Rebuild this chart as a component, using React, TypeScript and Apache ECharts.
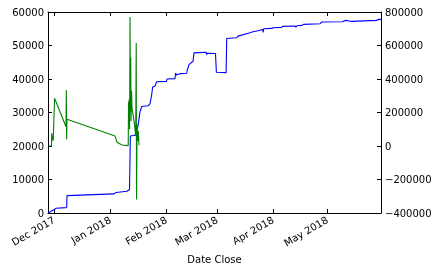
import React, { useEffect, useRef } from "react";
import * as echarts from "echarts";

// Blue series (left axis)
const blueDates = [
  "2017-11-27 17:00", "2017-11-28 19:00", "2017-12-01 13:00", "2017-12-02 00:00", "2017-12-07 15:00",
  "2017-12-08 00:00", "2017-12-08 04:00", "2018-01-03 03:00", "2018-01-04 06:00", "2018-01-10 08:00",
  "2018-01-11 17:00", "2018-01-12 04:00", "2018-01-14 18:00", "2018-01-16 10:00", "2018-01-17 12:00",
  "2018-01-18 11:00", "2018-01-21 22:00", "2018-01-23 00:00", "2018-01-23 21:00", "2018-01-24 12:00",
  "2018-01-25 19:00", "2018-01-26 17:00", "2018-02-01 04:00", "2018-02-01 10:00", "2018-02-05 20:00",
  "2018-02-06 05:00", "2018-02-06 16:00", "2018-02-08 14:00", "2018-02-12 07:00", "2018-02-12 14:00",
  "2018-02-13 14:00", "2018-02-15 02:00", "2018-02-15 19:00", "2018-02-16 08:00", "2018-02-23 00:00",
  "2018-02-23 08:00", "2018-02-23 20:00", "2018-02-28 05:00", "2018-02-28 17:00", "2018-03-06 02:00",
  "2018-03-06 10:00", "2018-03-11 22:00", "2018-03-12 16:00", "2018-03-19 07:00", "2018-03-20 22:00",
  "2018-03-23 17:00", "2018-03-26 05:00", "2018-03-26 12:00", "2018-03-26 20:00", "2018-03-31 10:00",
  "2018-04-01 00:00", "2018-04-05 17:00", "2018-04-06 05:00", "2018-04-13 03:00", "2018-04-13 16:00",
  "2018-04-14 05:00", "2018-04-17 00:00", "2018-04-17 20:00", "2018-04-27 00:00", "2018-04-27 19:00",
  "2018-05-09 03:00", "2018-05-11 08:00", "2018-05-13 00:00", "2018-05-14 03:00", "2018-05-28 04:00",
  "2018-05-29 14:00", "2018-05-30 16:00",
];
const blueValues = [
  0, 300, 1200, 1400, 1600,
  1800, 5200, 5700, 6100, 6500,
  7000, 23000, 23200, 26000, 30200,
  31800, 32000, 32600, 35000, 37600,
  37900, 39200, 39300, 40000, 40100,
  41800, 41200, 41600, 41700, 42600,
  44300, 45000, 45200, 47800, 48000,
  47300, 47700, 47600, 42000, 41900,
  52100, 52300, 52800, 53800, 54100,
  54400, 54800, 53900, 55000, 55100,
  55300, 55400, 55700, 55800, 55500,
  55900, 56000, 56300, 56500, 57000,
  57100, 57500, 57300, 57200, 57500,
  57800, 57800,
];

// Green series (right axis)
const greenDates = [
  "2017-11-28 01:00", "2017-11-29 14:00", "2017-11-29 17:00", "2017-11-30 04:00", "2017-11-30 13:00",
  "2017-12-01 07:00", "2017-12-07 15:00", "2017-12-07 19:00", "2017-12-07 23:00", "2017-12-08 04:00",
  "2018-01-03 17:00", "2018-01-04 19:00", "2018-01-07 14:00", "2018-01-11 00:00", "2018-01-11 04:00",
  "2018-01-11 07:00", "2018-01-11 13:00", "2018-01-11 18:00", "2018-01-12 00:00", "2018-01-12 04:00",
  "2018-01-12 09:00", "2018-01-12 13:00", "2018-01-12 20:00", "2018-01-13 02:00", "2018-01-14 05:00",
  "2018-01-15 03:00", "2018-01-15 10:00", "2018-01-15 14:00", "2018-01-15 21:00", "2018-01-16 07:00",
  "2018-01-16 14:00", "2018-01-16 23:00",
];
const greenValues = [
  0, 0, 76000, 45000, 30000,
  285000, 115000, 334000, 40000, 160000,
  60000, 22000, 6000, 2000, 264000,
  130000, 280000, 100000, 770000, 200000,
  530000, 150000, 330000, 230000, 150000,
  60000, 615000, -320000, 130000, 30000,
  90000, 5000,
];

const monthTicks = ["2017-12-01 00:00", "2018-01-01 00:00", "2018-02-01 00:00", "2018-03-01 00:00", "2018-04-01 00:00", "2018-05-01 00:00"];
const monthLabels = ["Dec 2017", "Jan 2018", "Feb 2018", "Mar 2018", "Apr 2018", "May 2018"];
const xMin = "2017-11-27 16:00";
const xMax = "2018-05-30 16:00";

const ts = (s: string) => new Date(s.replace(" ", "T")).getTime();

export default function App() {
  const ref = useRef<HTMLDivElement>(null);
  useEffect(() => {
    if (!ref.current) return;
    const chart = echarts.init(ref.current, null, { renderer: "svg" });
    const tickTs = monthTicks.map(ts);
    const font = { fontFamily: "DejaVu Sans", fontSize: 10, color: "#000" };
    const axisLine = { show: true, onZero: false, lineStyle: { color: "#000", width: 1 } };
    const plain = (v: number) => String(v).replace("-", "\u2212");
    chart.setOption({
      animation: false,
      grid: { left: 48, right: 58, top: 12, bottom: 60, containLabel: false, outerBoundsMode: "none" },
      xAxis: [
        {
          type: "value",
          position: "bottom",
          min: ts(xMin),
          max: ts(xMax),
          axisLine,
          splitLine: { show: false },
          axisTick: { show: true, inside: true, length: 4, customValues: tickTs, lineStyle: { color: "#000" } },
          axisLabel: {
            ...font,
            rotate: 30,
            margin: 6,
            customValues: tickTs,
            formatter: (v: number) => {
              const i = tickTs.indexOf(v);
              return i >= 0 ? monthLabels[i] : "";
            },
          },
          name: "Date Close",
          nameLocation: "middle",
          nameGap: 40,
          nameTextStyle: { ...font },
        },
        {
          type: "value",
          position: "top",
          min: ts(xMin),
          max: ts(xMax),
          axisLine,
          splitLine: { show: false },
          axisTick: { show: true, inside: true, length: 4, customValues: tickTs, lineStyle: { color: "#000" } },
          axisLabel: { show: false },
        },
      ],
      yAxis: [
        {
          type: "value",
          position: "left",
          min: 0,
          max: 60000,
          interval: 10000,
          axisLine,
          splitLine: { show: false },
          axisTick: { show: true, inside: true, length: 4, lineStyle: { color: "#000" } },
          axisLabel: { ...font, margin: 4, formatter: plain },
        },
        {
          type: "value",
          position: "right",
          min: -400000,
          max: 800000,
          interval: 200000,
          axisLine,
          splitLine: { show: false },
          axisTick: { show: true, inside: true, length: 4, lineStyle: { color: "#000" } },
          axisLabel: { ...font, margin: 4, formatter: plain },
        },
      ],
      series: [
        {
          type: "line",
          xAxisIndex: 0,
          yAxisIndex: 0,
          data: blueDates.map((d, i) => [ts(d), blueValues[i]]),
          showSymbol: false,
          symbol: "none",
          lineStyle: { color: "#0000ff", width: 1.1 },
          itemStyle: { color: "#0000ff" },
        },
        {
          type: "line",
          xAxisIndex: 0,
          yAxisIndex: 1,
          data: greenDates.map((d, i) => [ts(d), greenValues[i]]),
          showSymbol: false,
          symbol: "none",
          lineStyle: { color: "#008000", width: 1.1 },
          itemStyle: { color: "#008000" },
        },
      ],
    });
    return () => chart.dispose();
  }, []);
  return <div ref={ref} style={{ position: "fixed", left: 0, top: 0, width: 439, height: 273 }} />;
}
